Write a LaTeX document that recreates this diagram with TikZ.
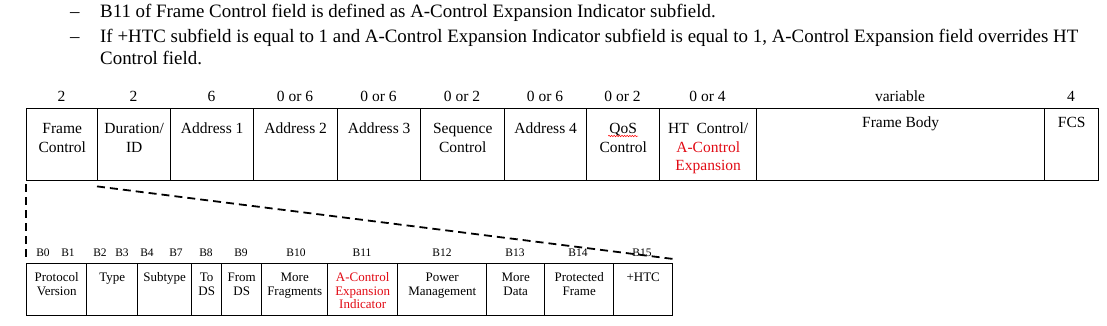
\documentclass[tikz,border=0pt]{standalone}
\usepackage{fontspec}
\setmainfont{Liberation Serif}
\usetikzlibrary{decorations.pathmorphing}
\definecolor{redtxt}{RGB}{225,10,20}
% #1 height, #2 width, #3 first-baseline depth from top, #4 content
\newcommand\cellt[4]{\parbox[c][#1][t]{#2}{\centering\rule{0pt}{#3}#4\par}}
\tikzset{
  hdr/.style={inner sep=0pt, anchor=base west, font=\fontsize{18.9}{22}\selectfont},
  topcell/.style={draw, line width=1.4pt, inner sep=0pt, anchor=north west, font=\fontsize{15.5}{18.5}\selectfont},
  botcell/.style={draw, line width=1.4pt, inner sep=0pt, anchor=north west, font=\fontsize{13}{13.5}\selectfont},
  num/.style={inner sep=0pt, anchor=base, font=\fontsize{15.5}{18.5}\selectfont},
  bitlbl/.style={inner sep=0pt, anchor=base, font=\fontsize{11.5}{13}\selectfont},
  dashline/.style={line width=1.8pt, dash pattern=on 8pt off 5pt}
}
\begin{document}
\begin{tikzpicture}[x=1pt, y=-1pt]
\useasboundingbox (0,0) rectangle (1107,326);

% header text
\node[hdr] (d1) at (70,18) {–};
\node[hdr] (t1) at (100,18) {B11 of Frame Control field is defined as A-Control Expansion Indicator subfield.};
\node[hdr] (d2) at (70,43) {–};
\node[hdr] (t2) at (100,43) {\parbox[t]{1000pt}{\raggedright If +HTC subfield is equal to 1 and A-Control Expansion Indicator subfield is equal to 1, A-Control Expansion field overrides HT\\Control field.}};

% octet counts
\node[num] (n1) at (61.5,102) {2};
\node[num] (n2) at (133.5,102) {2};
\node[num] (n3) at (211.5,102) {6};
\node[num] (n4) at (295,102) {0 or 6};
\node[num] (n5) at (378.5,102) {0 or 6};
\node[num] (n6) at (462,102) {0 or 2};
\node[num] (n7) at (545,102) {0 or 6};
\node[num] (n8) at (622.5,102) {0 or 2};
\node[num] (n9) at (707.5,102) {0 or 4};
\node[num] (n10) at (900,102) {variable};
\node[num] (n11) at (1071,102) {4};

% top frame format
\node[topcell] (fc) at (26,108) {\cellt{72pt}{71pt}{25pt}{Frame\\Control}};
\node[topcell] (du) at (97,108) {\cellt{72pt}{73pt}{25pt}{Duration/\\ID}};
\node[topcell] (a1) at (170,108) {\cellt{72pt}{83pt}{25pt}{Address 1}};
\node[topcell] (a2) at (253,108) {\cellt{72pt}{84pt}{25pt}{Address 2}};
\node[topcell] (a3) at (337,108) {\cellt{72pt}{83pt}{25pt}{Address 3}};
\node[topcell] (sc) at (420,108) {\cellt{72pt}{84pt}{25pt}{Sequence\\Control}};
\node[topcell] (a4) at (504,108) {\cellt{72pt}{82pt}{25pt}{Address 4}};
\node[topcell] (qos) at (586,108) {\cellt{72pt}{73pt}{25pt}{QoS\\Control}};
\node[topcell] (ht) at (659,108) {\cellt{72pt}{97pt}{25pt}{HT\ \ Control/\\\textcolor{redtxt}{A-Control}\\\textcolor{redtxt}{Expansion}}};
\node[topcell] (fb) at (756,108) {\cellt{72pt}{288pt}{19pt}{Frame Body}};
\node[topcell] (fcs) at (1044,108) {\cellt{72pt}{54pt}{19pt}{FCS}};

% spell-check squiggle under QoS
\draw[red, line width=0.5pt, decorate, decoration={snake, amplitude=0.7pt, segment length=2.6pt}]
  ([xshift=-15pt,yshift=-28pt]qos.north) -- ([xshift=15pt,yshift=-28pt]qos.north);

% bit labels
\node[bitlbl] (b0) at (43,256) {B0};
\node[bitlbl] (b1) at (68,256) {B1};
\node[bitlbl] (b2) at (100,256) {B2};
\node[bitlbl] (b3) at (122,256) {B3};
\node[bitlbl] (b4) at (147,256) {B4};
\node[bitlbl] (b7) at (176,256) {B7};
\node[bitlbl] (b8) at (206,256) {B8};
\node[bitlbl] (b9) at (241,256) {B9};
\node[bitlbl] (b10) at (296,256) {B10};
\node[bitlbl] (b11) at (362,256) {B11};
\node[bitlbl] (b12) at (442,256) {B12};
\node[bitlbl] (b13) at (515,256) {B13};
\node[bitlbl] (b14) at (578,256) {B14};
\node[bitlbl] (b15) at (642,256) {B15};

% frame control subfields
\node[botcell] (pv) at (26,263) {\cellt{52pt}{60pt}{18pt}{Protocol\\Version}};
\node[botcell] (ty) at (86,263) {\cellt{52pt}{51pt}{18pt}{Type}};
\node[botcell] (st) at (137,263) {\cellt{52pt}{54pt}{18pt}{Subtype}};
\node[botcell] (tods) at (191,263) {\cellt{52pt}{30pt}{18pt}{To\\DS}};
\node[botcell] (frds) at (221,263) {\cellt{52pt}{40pt}{18pt}{From\\DS}};
\node[botcell] (mf) at (261,263) {\cellt{52pt}{66pt}{18pt}{More\\Fragments}};
\node[botcell] (aci) at (327,263) {\cellt{52pt}{70pt}{18pt}{\color{redtxt}A-Control\\Expansion\\Indicator}};
\node[botcell] (pm) at (397,263) {\cellt{52pt}{89pt}{18pt}{Power\\Management}};
\node[botcell] (md) at (486,263) {\cellt{52pt}{58pt}{18pt}{More\\Data}};
\node[botcell] (pf) at (544,263) {\cellt{52pt}{69pt}{18pt}{Protected\\Frame}};
\node[botcell] (htc) at (613,263) {\cellt{52pt}{59pt}{18pt}{+HTC}};

% expansion lines
\draw[dashline] ([yshift=-3pt]fc.south west) -- ([yshift=6pt]pv.north west);
\draw[dashline] ([yshift=-5pt]du.south west) -- ([yshift=4pt]htc.north east);
\end{tikzpicture}
\end{document}
